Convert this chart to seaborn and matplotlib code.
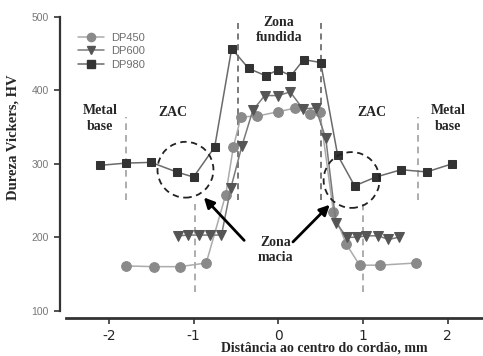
import matplotlib
matplotlib.use("Agg")
import matplotlib.pyplot as plt
from matplotlib.lines import Line2D
from matplotlib.patches import Ellipse
import seaborn as sns
import pandas as pd

# Microhardness profiles across the weld bead
x_dp450 = [-1.8, -1.47, -1.16, -0.85, -0.62, -0.53, -0.44, -0.25, 0.0, 0.2, 0.37, 0.49, 0.65, 0.8, 0.96, 1.2, 1.63]
hv_dp450 = [161, 160, 160, 165, 258, 323, 364, 365, 371, 376, 368, 371, 235, 191, 162, 162, 165]

x_dp600 = [-1.18, -1.06, -0.93, -0.8, -0.67, -0.56, -0.43, -0.3, -0.16, 0.0, 0.14, 0.29, 0.44, 0.56, 0.68,
           0.81, 0.93, 1.04, 1.18, 1.3, 1.42]
hv_dp600 = [202, 203, 203, 203, 203, 267, 324, 373, 393, 393, 398, 375, 376, 335, 220, 200, 200, 202, 202, 197, 200]

x_dp980 = [-2.1, -1.8, -1.5, -1.2, -1.0, -0.75, -0.55, -0.35, -0.15, 0.0, 0.15, 0.3, 0.5, 0.7, 0.9, 1.15,
           1.45, 1.75, 2.05]
hv_dp980 = [298, 301, 302, 289, 282, 323, 457, 430, 420, 428, 420, 442, 438, 312, 270, 282, 292, 289, 300]

series_names = ["DP450", "DP600", "DP980"]
x_ticks = [-2, -1, 0, 1, 2]
y_ticks = [100, 200, 300, 400, 500]

styles = {
    "DP450": dict(line="#ababab", face="#8a8a8a", marker="o", ms=7),
    "DP600": dict(line="#7a7a7a", face="#555555", marker="v", ms=6.5),
    "DP980": dict(line="#6a6a6a", face="#333333", marker="s", ms=6),
}

sns.set_style("white")
serif = ["Liberation Serif", "DejaVu Serif"]
sans = ["Liberation Sans", "DejaVu Sans"]

fig = plt.figure(figsize=(4.83, 3.56), dpi=100)
ax = fig.add_axes([60 / 483, (356 - 310.7) / 356, (483 - 60) / 483, (310.7 - 17) / 356])

data = {"DP450": (x_dp450, hv_dp450), "DP600": (x_dp600, hv_dp600), "DP980": (x_dp980, hv_dp980)}
for name in series_names:
    xs, ys = data[name]
    st = styles[name]
    df = pd.DataFrame({"x": xs, "hv": ys})
    sns.lineplot(data=df, x="x", y="hv", ax=ax, color=st["line"], marker=st["marker"],
                 markersize=st["ms"], markerfacecolor=st["face"], markeredgecolor=st["face"],
                 linewidth=1.1, sort=False, zorder=3)

# Zone boundaries
light = "#a0a0a0"
dark = "#555555"
for xv in (-1.80, 1.65):
    ax.plot([xv, xv], [251, 364], ls=(0, (4, 3)), color=light, lw=1.2, zorder=1)
for xv in (-0.98, 1.0):
    ax.plot([xv, xv], [126, 245], ls=(0, (4, 3)), color=light, lw=1.2, zorder=1)
for xv in (-0.48, 0.505):
    ax.plot([xv, xv], [251, 492], ls=(0, (4, 3)), color=dark, lw=1.1, zorder=1)

# Soft zone highlights
for cx, cy in ((-1.095, 292), (0.865, 278)):
    ax.add_patch(Ellipse((cx, cy), width=0.66, height=76, fill=False, ls=(0, (3.5, 2.5)),
                         lw=1.3, edgecolor="#222222", zorder=4))

arrow_kw = dict(arrowstyle="-|>,head_length=0.6,head_width=0.3", color="black", lw=2)
ax.annotate("", xy=(-0.9, 257), xytext=(-0.38, 193), arrowprops=arrow_kw, zorder=5)
ax.annotate("", xy=(0.63, 247), xytext=(0.15, 191), arrowprops=arrow_kw, zorder=5)

txt = dict(family=serif, fontweight="bold", fontsize=10, ha="center", va="center", linespacing=1.25, zorder=6)
ax.text(-0.03, 183, "Zona\nmacia", **txt)
ax.text(0.01, 482, "Zona\nfundida", **txt)
ax.text(-1.24, 370, "ZAC", **txt)
ax.text(1.11, 370, "ZAC", **txt)
ax.text(-2.1, 362, "Metal\nbase", **txt)
ax.text(2.0, 362, "Metal\nbase", **txt)

ax.set_xlim(-2.575, 2.415)
ax.set_ylim(100, 500)
ax.set_xticks(x_ticks)
ax.set_yticks(y_ticks)
ax.set_xticklabels([str(v) for v in x_ticks])
ax.set_yticklabels([str(v) for v in y_ticks])
for lab in ax.get_xticklabels() + ax.get_yticklabels():
    lab.set_family(sans)
    lab.set_fontsize(7.5)
    lab.set_color("#777777")
ax.tick_params(axis="both", which="major", direction="out", length=4, width=1.2, color="#333333",
               left=True, bottom=True, pad=4)
ax.set_xlabel("")
ax.set_ylabel("")

for side in ("top", "right"):
    ax.spines[side].set_visible(False)
ax.spines["left"].set_bounds(100, 500)
ax.spines["left"].set_color("#333333")
ax.spines["left"].set_linewidth(1.6)
ax.spines["bottom"].set_position(("outward", 5))
ax.spines["bottom"].set_bounds(-2.505, 2.415)
ax.spines["bottom"].set_color("#333333")
ax.spines["bottom"].set_linewidth(2.0)

fig.text(324 / 483, 1 - 348 / 356, "Distância ao centro do cordão, mm", family=serif, fontweight="bold",
         fontsize=10, ha="center", va="center")
fig.text(13 / 483, 1 - 137 / 356, "Dureza Vickers, HV", family=serif, fontweight="bold",
         fontsize=10.5, ha="center", va="center", rotation=90)

handles = []
for name in series_names:
    st = styles[name]
    handles.append(Line2D([], [], color=st["line"], marker=st["marker"], markersize=st["ms"] * 0.85,
                          markerfacecolor=st["face"], markeredgecolor=st["face"], lw=1.1))
leg = ax.legend(handles, series_names, loc="upper left", bbox_to_anchor=(0.02, 0.98), frameon=False,
                handlelength=2.3, handletextpad=0.6, labelspacing=0.3, prop={"family": sans, "size": 8})
for t in leg.get_texts():
    t.set_color("#6e6e6e")

fig.savefig("out.png", dpi=100)
